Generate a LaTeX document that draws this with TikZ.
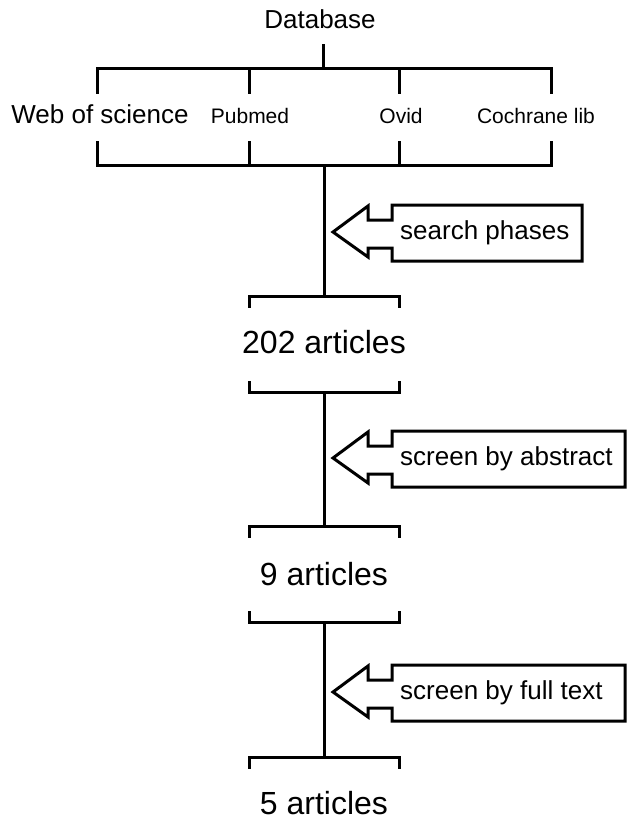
\documentclass[tikz,border=0pt]{standalone}
\usepackage{fontspec}
\setmainfont{Liberation Sans}
\usetikzlibrary{calc}

\begin{document}
\begin{tikzpicture}[x=1pt, y=-1pt,
  bar/.style={line width=3pt, line cap=rect},
  phase/.style={line width=3pt, line join=miter},
  big/.style={font=\fontsize{32}{36}\selectfont, anchor=base, inner sep=0pt},
  mid/.style={font=\fontsize{26}{30}\selectfont, anchor=base, inner sep=0pt},
  small/.style={font=\fontsize{21}{25}\selectfont, anchor=base, inner sep=0pt}]
  \useasboundingbox (0,0) rectangle (627,822);
  % Database and its sources
  \node[mid] (db) at (320,28) {Database};
  \coordinate (dbstub) at (323,45);
  \coordinate (dbtop) at (323,68);
  \draw[bar] (dbstub) -- (dbtop);
  \draw[bar] (97,68) -- (551,68);
  \foreach \x in {97,249,399,551} {
    \draw[bar] (\x,68) -- (\x,92);
    \draw[bar] (\x,142) -- (\x,165);
  }
  \draw[bar] (97,165) -- (551,165);
  \node[mid] (wos) at (100,123) {Web of science};
  \node[small] (pub) at (250,123) {Pubmed};
  \node[small] (ovid) at (401,123) {Ovid};
  \node[small] (coch) at (536,123) {Cochrane lib};
  \coordinate (dbjoin) at (324,165);
  % Article brackets
  \coordinate (a1top) at (324,296);
  \coordinate (a1bot) at (324,392);
  \coordinate (a2top) at (324,526);
  \coordinate (a2bot) at (324,622);
  \coordinate (a3top) at (324,757);
  \foreach \yt in {296,526,757} {
    \draw[bar] (249,\yt+10) -- (249,\yt) -- (399,\yt) -- (399,\yt+10);
  }
  \foreach \yb in {392,622} {
    \draw[bar] (249,\yb-10) -- (249,\yb) -- (399,\yb) -- (399,\yb-10);
  }
  \node[big] (art1) at (324,353) {202 articles};
  \node[big] (art2) at (324,585) {9 articles};
  \node[big] (art3) at (324,814) {5 articles};
  % Stems
  \draw[bar] (dbjoin) -- (a1top);
  \draw[bar] (a1bot) -- (a2top);
  \draw[bar] (a2bot) -- (a3top);
  % Phase arrows
  \foreach \t/\r/\txt/\nm in {205/582/search phases/ph1,
      431/625/screen by abstract/ph2, 665/625/screen by full text/ph3} {
    \draw[phase] (392,\t+15) -- (392,\t) -- (\r,\t) -- (\r,\t+56) -- (392,\t+56)
      -- (392,\t+43) -- (368,\t+43) -- (368,\t+52) -- (333,\t+27)
      -- (368,\t+1) -- (368,\t+15) -- cycle;
    \node[mid, anchor=base west] (\nm) at (400,\t+34) {\txt};
  }
\end{tikzpicture}
\end{document}
